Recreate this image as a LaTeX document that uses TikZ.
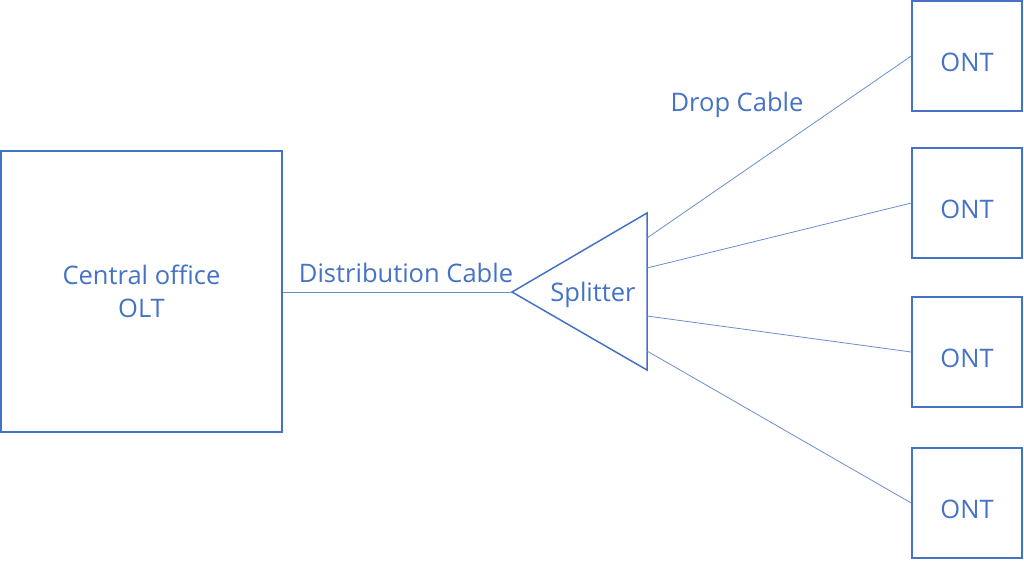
\documentclass[tikz,border=0pt]{standalone}
\usepackage{fontspec}
\setmainfont{Open Sans}
\usetikzlibrary{positioning}
\definecolor{ponblue}{RGB}{68,114,196}
\tikzset{x=1pt,y=-1pt}
\tikzset{unitbox/.style={draw=ponblue, line width=1.5pt, text=ponblue, align=center,
    inner sep=0pt, font=\fontsize{25.5}{33}\selectfont}}
\tikzset{cable/.style={draw=ponblue!80, line width=0.8pt}}
\tikzset{cabletext/.style={text=ponblue, inner sep=0pt, font=\fontsize{25.5}{30}\selectfont}}

\begin{document}
\begin{tikzpicture}
    \useasboundingbox (0,0) rectangle (1024,560);
    % central office
    \node[unitbox, minimum width=281pt, minimum height=281pt] (olt) at (141.5,291.5) {Central office\\OLT};
    % onts
    \foreach \n/\y in {1/56, 2/203, 3/352, 4/503}
        \node[unitbox, minimum width=110pt, minimum height=110pt] (ont\n) at (967,\y) {\raisebox{-15pt}[0pt][0pt]{ONT}};
    % splitter
    \coordinate (tip) at (512,292);
    \coordinate (top) at (647,213);
    \coordinate (bot) at (647,370);
    \draw[draw=ponblue, line width=1.5pt, line join=miter] (tip) -- (top) -- (bot) -- cycle;
    \node[cabletext] (spl) at (593,295) {Splitter};
    \coordinate (out1) at (647,238);
    \coordinate (out2) at (647,268);
    \coordinate (out3) at (647,316);
    \coordinate (out4) at (647,351);

    \draw [cable] (olt.east |- tip) to (tip);
    \node[cabletext] (dist) at (406,273) {Distribution Cable};
    \foreach \n in {1,...,4}
        \draw [cable] (out\n) to (ont\n.west);
    \node[cabletext] (drop) at (737,105) {Drop Cable};
\end{tikzpicture}
\end{document}
